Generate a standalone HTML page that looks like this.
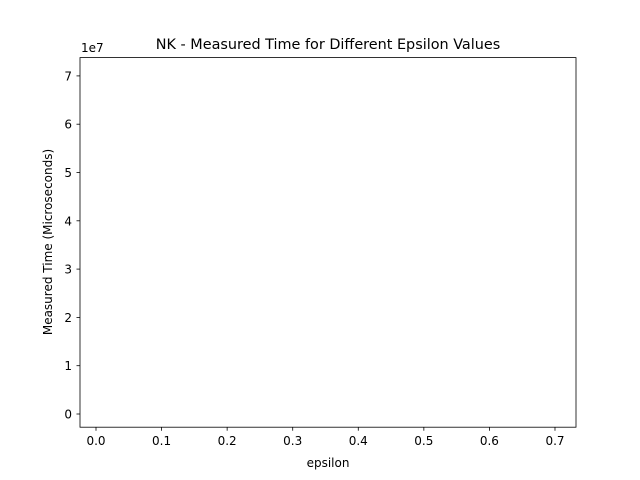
<!DOCTYPE html>
<html><head><meta charset="utf-8"><style>
body{margin:0;background:#fff;}
svg{display:block;font-family:"DejaVu Sans","Liberation Sans",sans-serif;}
</style></head><body>
<svg width="640" height="480" viewBox="0 0 640 480">
<rect x="0" y="0" width="640" height="480" fill="#fff"/>
<text x="328" y="49" font-size="14.4" text-anchor="middle">NK - Measured Time for Different Epsilon Values</text>
<g id="ticks"></g>
<rect x="80" y="57.6" width="496" height="369.6" fill="none" stroke="#000" stroke-width="0.8"/>
<text x="81" y="52" font-size="12">1e7</text>
<text x="328" y="467" font-size="12" text-anchor="middle">epsilon</text>
<text transform="translate(52,242) rotate(-90)" font-size="12" text-anchor="middle">Measured Time (Microseconds)</text>
</svg>
<script>
const xTicks=[0,0.1,0.2,0.3,0.4,0.5,0.6,0.7];
const xTickLabels=["0.0","0.1","0.2","0.3","0.4","0.5","0.6","0.7"];
const yTicks=[0,1,2,3,4,5,6,7];
const yTickLabels=["0","1","2","3","4","5","6","7"];
const epsilonValues=[];
const measuredTimes=[];
function xs(v){return 96+v*655.7;}
function ys(v){return 414-v*48.3;}
const ns="http://www.w3.org/2000/svg";
const g=document.getElementById('ticks');
xTicks.forEach((t,i)=>{
  const l=document.createElementNS(ns,'line');
  l.setAttribute('x1',xs(t));l.setAttribute('x2',xs(t));l.setAttribute('y1',427.2);l.setAttribute('y2',430.7);
  l.setAttribute('stroke','#000');l.setAttribute('stroke-width','0.8');
  
  
  g.appendChild(l);
  const tx=document.createElementNS(ns,'text');
  tx.setAttribute('x',xs(t));tx.setAttribute('y',445);tx.setAttribute('font-size','12');tx.setAttribute('text-anchor','middle');
  tx.textContent=xTickLabels[i];
  
  
  g.appendChild(tx);
});
yTicks.forEach((t,i)=>{
  const l=document.createElementNS(ns,'line');
  l.setAttribute('x1',76.5);l.setAttribute('x2',80);l.setAttribute('y1',ys(t));l.setAttribute('y2',ys(t));
  l.setAttribute('stroke','#000');l.setAttribute('stroke-width','0.8');
  
  
  g.appendChild(l);
  const tx=document.createElementNS(ns,'text');
  tx.setAttribute('x',72);tx.setAttribute('y',ys(t)+4.5);tx.setAttribute('font-size','12');tx.setAttribute('text-anchor','end');
  tx.textContent=yTickLabels[i];
  
  
  g.appendChild(tx);
});
if(epsilonValues.length){
  const p=document.createElementNS(ns,'polyline');
  p.setAttribute('points',epsilonValues.map((e,i)=>xs(e)+','+ys(measuredTimes[i])).join(' '));
  p.setAttribute('fill','none');p.setAttribute('stroke','#1f77b4');p.setAttribute('stroke-width','1.5');
  
  
  g.appendChild(p);
}
</script>
</body></html>
